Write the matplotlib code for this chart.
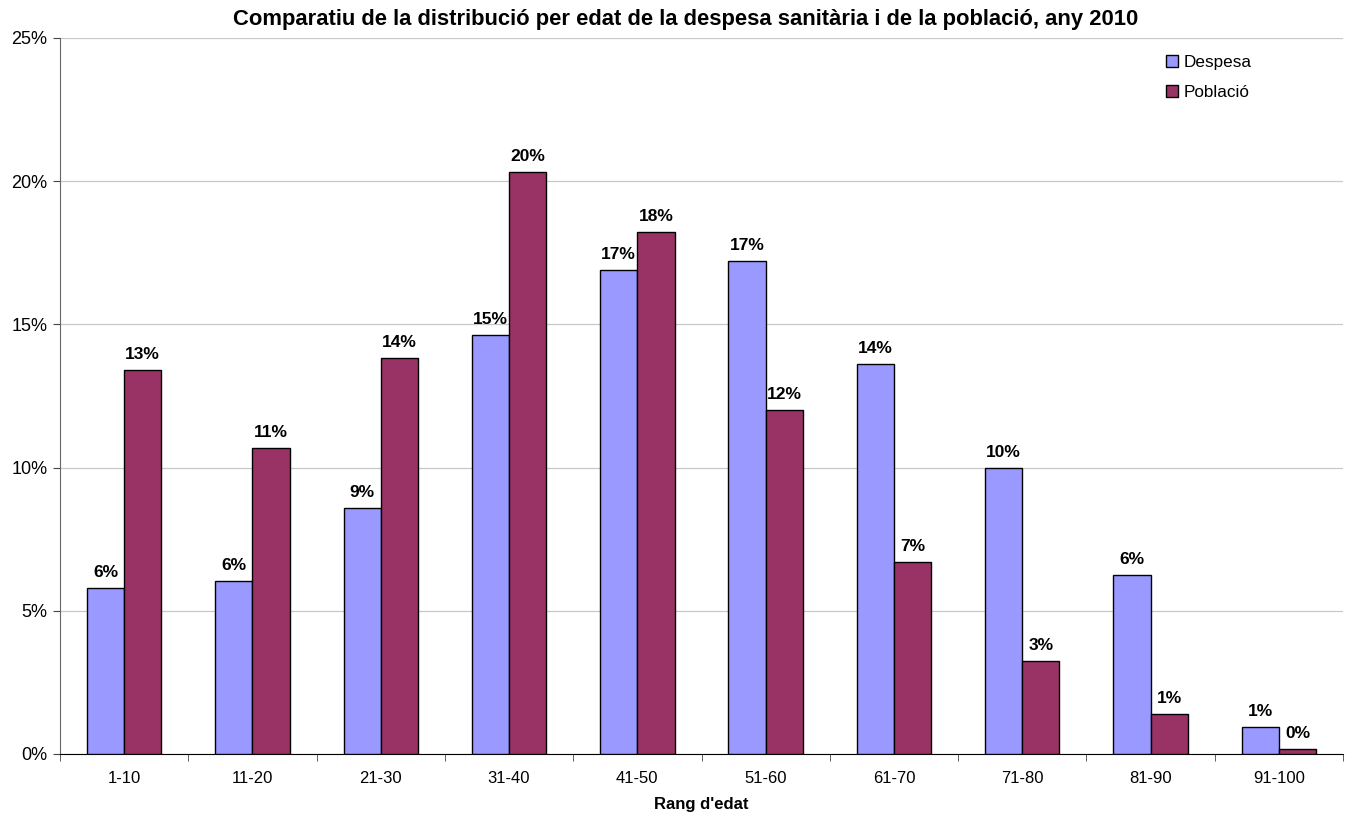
"""Comparatiu despesa sanitària vs població per edat, 2010."""

import matplotlib.pyplot as plt
import numpy as np
from matplotlib.ticker import FuncFormatter

plt.rcParams["font.family"] = ["Liberation Sans", "DejaVu Sans"]

age_ranges = ["1-10", "11-20", "21-30", "31-40", "41-50",
              "51-60", "61-70", "71-80", "81-90", "91-100"]
despesa = [5.80, 6.04, 8.59, 14.63, 16.90, 17.21, 13.62, 9.99, 6.25, 0.94]
poblacio = [13.41, 10.68, 13.83, 20.32, 18.23, 12.01, 6.70, 3.25, 1.40, 0.17]

fig = plt.figure(figsize=(13.48, 8.17), dpi=100)
ax = fig.add_axes([60 / 1348, 63 / 817, 1283 / 1348, 716 / 817])

x = np.arange(len(age_ranges))
w = 0.29
b1 = ax.bar(x - w / 2, despesa, w, color="#9999ff", edgecolor="black",
            linewidth=1.0, label="Despesa", zorder=3)
b2 = ax.bar(x + w / 2, poblacio, w, color="#993366", edgecolor="black",
            linewidth=1.0, label="Població", zorder=3)

for bars, vals in [(b1, despesa), (b2, poblacio)]:
    for bar, v in zip(bars, vals):
        ax.annotate(f"{v:.0f}%", (bar.get_x() + bar.get_width() / 2, v),
                    xytext=(0, 6), textcoords="offset points",
                    ha="center", va="bottom", fontsize=12.5, fontweight="bold")

ax.set_xlim(-0.5, len(age_ranges) - 0.5)
ax.set_ylim(0, 25)
ax.set_yticks(np.arange(0, 26, 5))
ax.yaxis.set_major_formatter(FuncFormatter(lambda v, _: f"{v:.0f}%"))
ax.set_xticks(x)
ax.set_xticklabels(age_ranges)
ax.set_xticks(np.arange(-0.5, len(age_ranges)), minor=True)
ax.tick_params(axis="x", which="major", length=0, pad=12, labelsize=12)
ax.tick_params(axis="x", which="minor", length=5, color="#444444")
ax.tick_params(axis="y", length=5, color="#444444", labelsize=13, pad=4)

ax.yaxis.grid(True, color="#c8c8c8", linewidth=0.9, zorder=0)
ax.spines[["top", "right"]].set_visible(False)
ax.spines["left"].set_color("#666666")
ax.spines["bottom"].set_color("black")

ax.set_xlabel("Rang d'edat", fontsize=12, fontweight="bold", labelpad=8)
ax.set_title("Comparatiu de la distribució per edat de la despesa sanitària "
             "i de la població, any 2010",
             fontsize=15.8, fontweight="bold", pad=9, x=0.488)

ax.legend(loc="upper right", bbox_to_anchor=(0.934, 0.986), borderaxespad=0,
          frameon=False, fontsize=12.3, handlelength=0.75, handleheight=0.75,
          handletextpad=0.3, labelspacing=0.85)

fig.savefig("out.png", dpi=100)
